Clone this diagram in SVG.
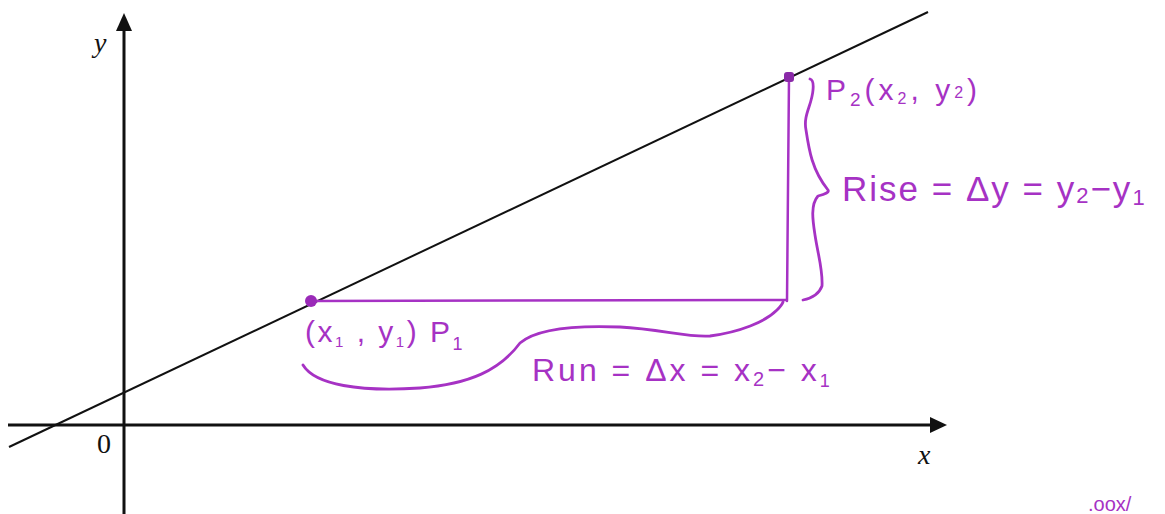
<svg xmlns="http://www.w3.org/2000/svg" width="1165" height="514" viewBox="0 0 1165 514">
<style>
.axis{stroke:#111;stroke-width:3;fill:none}
.line{stroke:#111;stroke-width:2;fill:none}
.mag{stroke:#a632c4;stroke-width:2.5;fill:none;stroke-linecap:round;stroke-linejoin:round}
.brace{stroke:#a632c4;stroke-width:2.8;fill:none;stroke-linecap:round;stroke-linejoin:round}
.lbl{font-family:"Liberation Serif","DejaVu Serif",serif;font-size:28px;fill:#111}
.hw{font-family:"Liberation Sans","DejaVu Sans",sans-serif;fill:#a632c4}
</style>
<rect width="1165" height="514" fill="#fff"/>
<g id="axes">
<line class="axis" x1="124" y1="514" x2="124" y2="22"/>
<path d="M116,31 L124,13 L132,31 Z" fill="#111"/>
<line class="axis" x1="8" y1="425" x2="935" y2="425"/>
<path d="M930,417 L947,425 L930,433 Z" fill="#111"/>
<text class="lbl" x="94" y="52" font-style="italic">y</text>
<text class="lbl" x="918" y="464" font-style="italic">x</text>
<text class="lbl" x="97" y="453" font-size="26">0</text>
</g>
<g id="line">
<line class="line" x1="9" y1="447" x2="928" y2="12"/>
</g>
<g id="connectors">
<line class="mag" x1="311" y1="301" x2="786" y2="300"/>
<line class="mag" x1="789" y1="77" x2="787" y2="301"/>
<path class="brace" d="M810,79 Q814,80 813,90 C812,105 803,115 806,130 C809,150 812,170 828,190 Q830,193 818,196 C810,205 813,222 815,235 C818,255 823,270 822,286 Q818,297 803,300"/>
<path class="brace" d="M303,365 C315,385 360,392 420,388 C470,384 500,370 520,343 C535,330 570,325 620,327 C660,329 690,338 710,336 C740,332 765,322 777,310 Q782,305 783,302"/>
</g>
<g id="P1">
<circle cx="311" cy="301" r="6" fill="#9a2ab8"/>
<text class="hw" x="305" y="342" font-size="30" letter-spacing="2.5">(x<tspan font-size="15" dy="5">1</tspan><tspan dy="-5"> , y</tspan><tspan font-size="15" dy="5">1</tspan><tspan dy="-5">) P</tspan><tspan font-size="18" dy="8">1</tspan></text>
</g>
<g id="P2">
<rect x="784" y="72" width="10" height="10" rx="3" fill="#8a2aa8"/>
<text class="hw" x="826" y="100" font-size="30" letter-spacing="4">P<tspan font-size="19" dy="6">2</tspan><tspan dy="-6">(x</tspan><tspan font-size="16" dy="4">2</tspan><tspan dy="-4">, y</tspan><tspan font-size="16" dy="-2">2</tspan><tspan dy="2">)</tspan></text>
</g>
<g id="rise">
<text class="hw" x="842" y="201" font-size="35" letter-spacing="2">Rise = Δy = y<tspan font-size="22" dy="2">2</tspan><tspan dy="-2">−y</tspan><tspan font-size="22" dy="4">1</tspan></text>
</g>
<g id="run">
<text class="hw" x="532" y="381" font-size="32" letter-spacing="3">Run = Δx = x<tspan font-size="20" dy="5">2</tspan><tspan dy="-5">− x</tspan><tspan font-size="18" dy="6">1</tspan></text>
</g>
<g id="note">
<text class="hw" x="1088" y="511" font-size="20">.oox/</text>
</g>
</svg>
